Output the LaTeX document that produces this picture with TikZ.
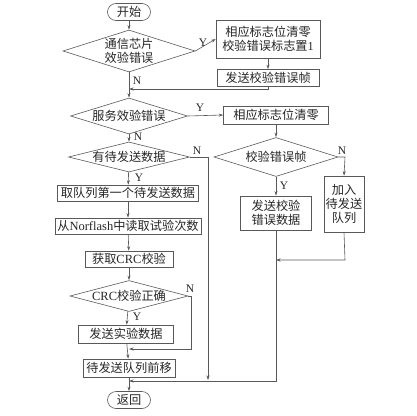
\documentclass[tikz,border=0pt]{standalone}
\usepackage{fontspec}
\setmainfont{Liberation Serif}
\newfontfamily\cjk{Noto Sans CJK SC}
\usetikzlibrary{arrows.meta,shapes.geometric}
\begin{document}
\begin{tikzpicture}[x=1pt,y=-1pt,
  every node/.style={font=\fontsize{12.2}{14}\selectfont\cjk, text=black!85, inner sep=0pt},
  box/.style={draw=black!65, line width=0.6pt, rectangle, align=center},
  dia/.style={draw=black!65, line width=0.6pt, diamond, align=center},
  term/.style={draw=black!65, line width=0.6pt, rectangle, rounded corners=8.5pt, minimum width=43pt, minimum height=17pt},
  lab/.style={font=\fontsize{11.5}{12}\selectfont\rmfamily},
  arr/.style={draw=black!65, line width=0.6pt, -{Stealth[length=4.5pt,width=3pt]}},
  ln/.style={draw=black!65, line width=0.6pt}]
\useasboundingbox (0,0) rectangle (417,415);
\node[term] (start) at (129,12) {开始};
\node[dia, aspect=3.1, minimum width=132pt, minimum height=42pt] (d1) at (129,51) {通信芯片\\效验错误};
\node[box, minimum width=104pt, minimum height=38pt] (b1) at (268,39) {相应标志位清零\\校验错误标志置{\rmfamily 1}};
\node[box, minimum width=102pt, minimum height=17pt] (b2) at (268,78) {发送校验错误帧};
\node[dia, aspect=3.25, minimum width=117pt, minimum height=36pt] (d2) at (129,116) {服务效验错误};
\node[box, minimum width=105pt, minimum height=18pt] (b3) at (276,115) {相应标志位清零};
\node[dia, aspect=4, minimum width=121pt, minimum height=30pt] (d3) at (129,157) {有待发送数据};
\node[dia, aspect=3.2, minimum width=124pt, minimum height=39pt] (dR) at (276,157) {校验错误帧};
\node[box, minimum width=141pt, minimum height=16pt] (b4) at (128,193) {取队列第一个待发送数据};
\node[box, minimum width=146pt, minimum height=16pt] (b5) at (128,226) {从{\rmfamily\fontsize{12.5}{13}\selectfont Norflash}中读取试验次数};
\node[box, minimum width=88pt, minimum height=16pt] (b6) at (129,259) {获取{\rmfamily\fontsize{12.5}{13}\selectfont CRC}校验};
\node[dia, aspect=3.8, minimum width=118pt, minimum height=31pt] (d4) at (129,296) {{\rmfamily\fontsize{12.5}{13}\selectfont CRC}校验正确};
\node[box, minimum width=95pt, minimum height=18pt] (b7) at (126,334) {发送实验数据};
\node[box, minimum width=92pt, minimum height=18pt] (b8) at (129,368) {待发送队列前移};
\node[term] (end) at (129,400) {返回};
\node[box, minimum width=71pt, minimum height=34pt] (bR1) at (276,213) {发送校验\\错误数据};
\node[box, minimum width=40pt, minimum height=56pt] (bR2) at (344,204) {加入\\待发送\\队列};
\coordinate (j1) at (129,89);
\coordinate (j2) at (129,349);
\coordinate (j3) at (129,381);
\coordinate (j4) at (276,260);
\coordinate (j5) at (208,380);
\coordinate (c1) at (191,296);
\coordinate (c2) at (345,157);
\coordinate (c3) at (345,260);
\coordinate (c4) at (276,381);
% main column
\draw[arr] (start) -- (d1);
\draw[arr] (d1) -- (d2);
\draw[arr] (d2) -- (d3);
\draw[arr] (d3) -- (b4);
\draw[arr] (b4) -- (b5);
\draw[arr] (b5) -- (b6);
\draw[arr] (b6) -- (d4);
\draw[arr] (d4) -- (b7);
\draw[arr] (b7) -- (b8);
\draw[arr] (b8) -- (end);
% upper right
\draw[arr] (d1.east) -- (b1.west);
\draw[arr] (b1) -- (b2);
\draw[arr] (b2.south) |- (j1);
\draw[arr] (d2.east) -- (b3.west);
\draw[arr] (b3) -- (dR);
% right branch
\draw[arr] (dR) -- (bR1);
\draw[arr] (dR.east) -- (c2) -- (bR2.north);
\draw[arr] (bR2.south) -- (c3) -- (j4);
\draw[arr] (bR1.south) -- (c4) -- (j3);
% loops
\draw[arr] (d3.east) -| (j5);
\draw[arr] (d4.east) -- (c1) |- (j2);
% labels
\node[lab] (y1) at (203,43) {Y};
\node[lab] (n1) at (137,81) {N};
\node[lab] (y2) at (200,108) {Y};
\node[lab] (n2) at (138,137) {N};
\node[lab] (n3) at (197,151) {N};
\node[lab] (y3) at (139,178) {Y};
\node[lab] (n4) at (190,289) {N};
\node[lab] (y4) at (137,317) {Y};
\node[lab] (y5) at (284,186) {Y};
\node[lab] (n5) at (342,151) {N};
\end{tikzpicture}
\end{document}
